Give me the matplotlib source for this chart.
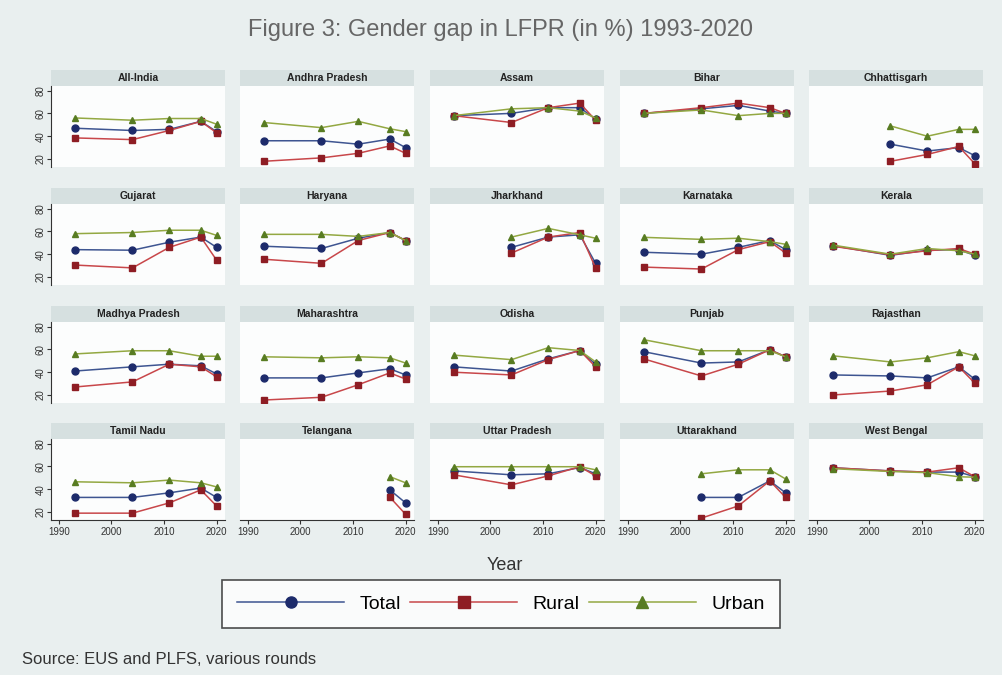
import numpy as np
import matplotlib
matplotlib.use("Agg")
import matplotlib.pyplot as plt
from matplotlib.lines import Line2D

plt.rcParams['font.family'] = ['Liberation Sans', 'DejaVu Sans']

n = np.nan

YEARS = [1993, 2004, 2011, 2017, 2020]

STATES = ["All-India", "Andhra Pradesh", "Assam", "Bihar", "Chhattisgarh",
          "Gujarat", "Haryana", "Jharkhand", "Karnataka", "Kerala",
          "Madhya Pradesh", "Maharashtra", "Odisha", "Punjab", "Rajasthan",
          "Tamil Nadu", "Telangana", "Uttar Pradesh", "Uttarakhand", "West Bengal"]

TOTAL = [
  [47, 45, 46, 53, 44],
  [36, 36, 33, 37.5, 30],
  [58, 60, 65, 65, 55],
  [60, 64, 67, 62, 60],
  [n, 33, 27, 30, 23],
  [44, 43.5, 50.5, 55, 46],
  [47, 45, 54, 59, 52],
  [n, 46, 55, 57, 32],
  [41.7, 40, 46, 52, 44],
  [47.5, 39, 43.5, 44, 39],
  [41, 44.7, 47, 45.6, 38.5],
  [35, 35, 39.4, 43, 37.6],
  [44.7, 41, 51.7, 59, 47],
  [58, 48, 49, 59.7, 53.5],
  [37.6, 36.7, 35, 44.7, 34],
  [32.8, 32.8, 36.8, 41, 32.8],
  [n, n, n, 39.4, 28],
  [56, 52.6, 53.5, 59, 53.5],
  [n, 32.8, 32.8, 47.3, 36.8],
  [58.8, 56, 55, 55, 51],
]

RURAL = [
  [38.5, 37, 45, 53, 43],
  [18, 21, 25, 31.5, 25],
  [58, 52, 65, 69, 54],
  [60, 65, 69, 65, 60],
  [n, 18, 24, 31, 16],
  [30.5, 28, 46, 55, 34.8],
  [35.6, 32, 52, 59, 52],
  [n, 41, 55, 59, 28],
  [28.7, 27, 44, 51, 41],
  [47, 39.5, 43, 45, 40],
  [27, 31.5, 47, 44.7, 36],
  [15.6, 18, 29, 39.4, 34],
  [40, 37.6, 51, 59, 44.7],
  [51.7, 36.7, 47, 59.7, 53.5],
  [20, 23.5, 29, 44.7, 30.6],
  [19, 19, 28, 39.4, 25.3],
  [n, n, n, 33, 18],
  [52.6, 43.8, 51.7, 59.7, 51.7],
  [n, 14.7, 25.3, 47.3, 32.8],
  [58.8, 56, 55, 58.8, 51],
]

URBAN = [
  [56, 54, 55.5, 55.5, 50.5],
  [52, 47.5, 53, 46.5, 44],
  [58, 64, 65, 62, 56],
  [60, 63, 58, 60, 60],
  [n, 49, 40, 46, 46],
  [58, 59, 61, 61, 56.5],
  [57.4, 57.4, 55.6, 59, 52],
  [n, 55, 62.6, 57, 54],
  [54.8, 53, 54, 51, 48.7],
  [48, 40, 45, 43, 40],
  [56, 58.8, 58.8, 54, 54],
  [53.5, 52.6, 53.5, 52.6, 48],
  [55, 51, 61.5, 59, 49],
  [68.5, 58.8, 58.8, 58.8, 53.5],
  [54.4, 49, 52.6, 58, 54.4],
  [46.5, 45.6, 48, 45.6, 42],
  [n, n, n, 51, 45.6],
  [59.7, 59.7, 59.7, 59.7, 57],
  [n, 53.5, 57, 57, 49],
  [58, 55.5, 54.5, 50.9, 50.5],
]

YTICKS = [20, 40, 60, 80]
XTICKS = [1990, 2000, 2010, 2020]

W, H = 1002, 675
BG = '#e9efef'
STRIP = '#d6e0e0'
PLOTBG = '#fcfdfd'

# (name, line colour, marker colour, marker)
SERIES = [
  ("Total", '#3e5591', '#1d2b6b', 'o'),
  ("Rural", '#c8474a', '#8e1d24', 's'),
  ("Urban", '#93a842', '#587c22', '^'),
]

def rect(x, y, w, h):
  return [x / W, 1 - (y + h) / H, w / W, h / H]

col_left = [51, 240, 430, 620, 809]
row_top = [70, 188, 306, 423]
pw, sh, ph = 174, 16, 81

fig = plt.figure(figsize=(W / 100, H / 100), dpi=100, facecolor=BG)

for i, state in enumerate(STATES):
  r, c = divmod(i, 5)
  x0, y0 = col_left[c], row_top[r]

  # strip with the state name
  sax = fig.add_axes(rect(x0, y0, pw, sh))
  sax.set_facecolor(STRIP)
  sax.set_xticks([])
  sax.set_yticks([])
  for s in sax.spines.values():
    s.set_visible(False)
  sax.text(0.5, 0.5, state, ha='center', va='center', fontsize=7.5,
           fontweight='bold', color='#222222', transform=sax.transAxes)

  ax = fig.add_axes(rect(x0, y0 + sh, pw, ph))
  ax.set_facecolor(PLOTBG)
  for vals, (name, lc, mc, mk) in zip((TOTAL[i], RURAL[i], URBAN[i]), SERIES):
    ax.plot(YEARS, vals, color=lc, lw=1.1, marker=mk, ms=5,
            markerfacecolor=mc, markeredgecolor=mc)
  ax.set_xlim(1988.5, 2021.6)
  ax.set_ylim(13, 84)
  for s in ax.spines.values():
    s.set_visible(False)

  if c == 0:
    ax.spines['left'].set_visible(True)
    ax.spines['left'].set_color('#333333')
    ax.set_yticks(YTICKS)
    ax.set_yticklabels([str(t) for t in YTICKS], rotation=90, va='center',
                       fontsize=7, color='#333333')
    ax.tick_params(axis='y', length=3, color='#333333', pad=1)
  else:
    ax.set_yticks([])

  if r == 3:
    ax.spines['bottom'].set_visible(True)
    ax.spines['bottom'].set_color('#333333')
    ax.set_xticks(XTICKS)
    ax.set_xticklabels([str(t) for t in XTICKS], fontsize=7, color='#333333')
    ax.tick_params(axis='x', length=3, color='#333333', pad=2)
  else:
    ax.set_xticks([])

fig.text(0.5, 1 - 30 / H, "Figure 3: Gender gap in LFPR (in %) 1993-2020",
         ha='center', va='center', fontsize=17, color='#666666')
fig.text(505 / W, 1 - 566 / H, "Year", ha='center', va='center',
         fontsize=13, color='#333333')

handles = [Line2D([], [], color=lc, lw=1.1, marker=mk, ms=8,
                  markerfacecolor=mc, markeredgecolor=mc)
           for name, lc, mc, mk in SERIES]
leg = fig.legend(handles, [s[0] for s in SERIES], ncol=3, loc='center',
                 bbox_to_anchor=rect(212, 578, 578, 52), mode='expand',
                 fontsize=14, handlelength=5.5, frameon=True, fancybox=False,
                 borderpad=0.8)
leg.get_frame().set_edgecolor('#222222')
leg.get_frame().set_facecolor('white')
leg.get_frame().set_linewidth(1.2)

fig.text(22 / W, 1 - 660 / H, "Source: EUS and PLFS, various rounds",
         ha='left', va='center', fontsize=12, color='#333333')

fig.savefig("out.png", dpi=100, facecolor=BG)
